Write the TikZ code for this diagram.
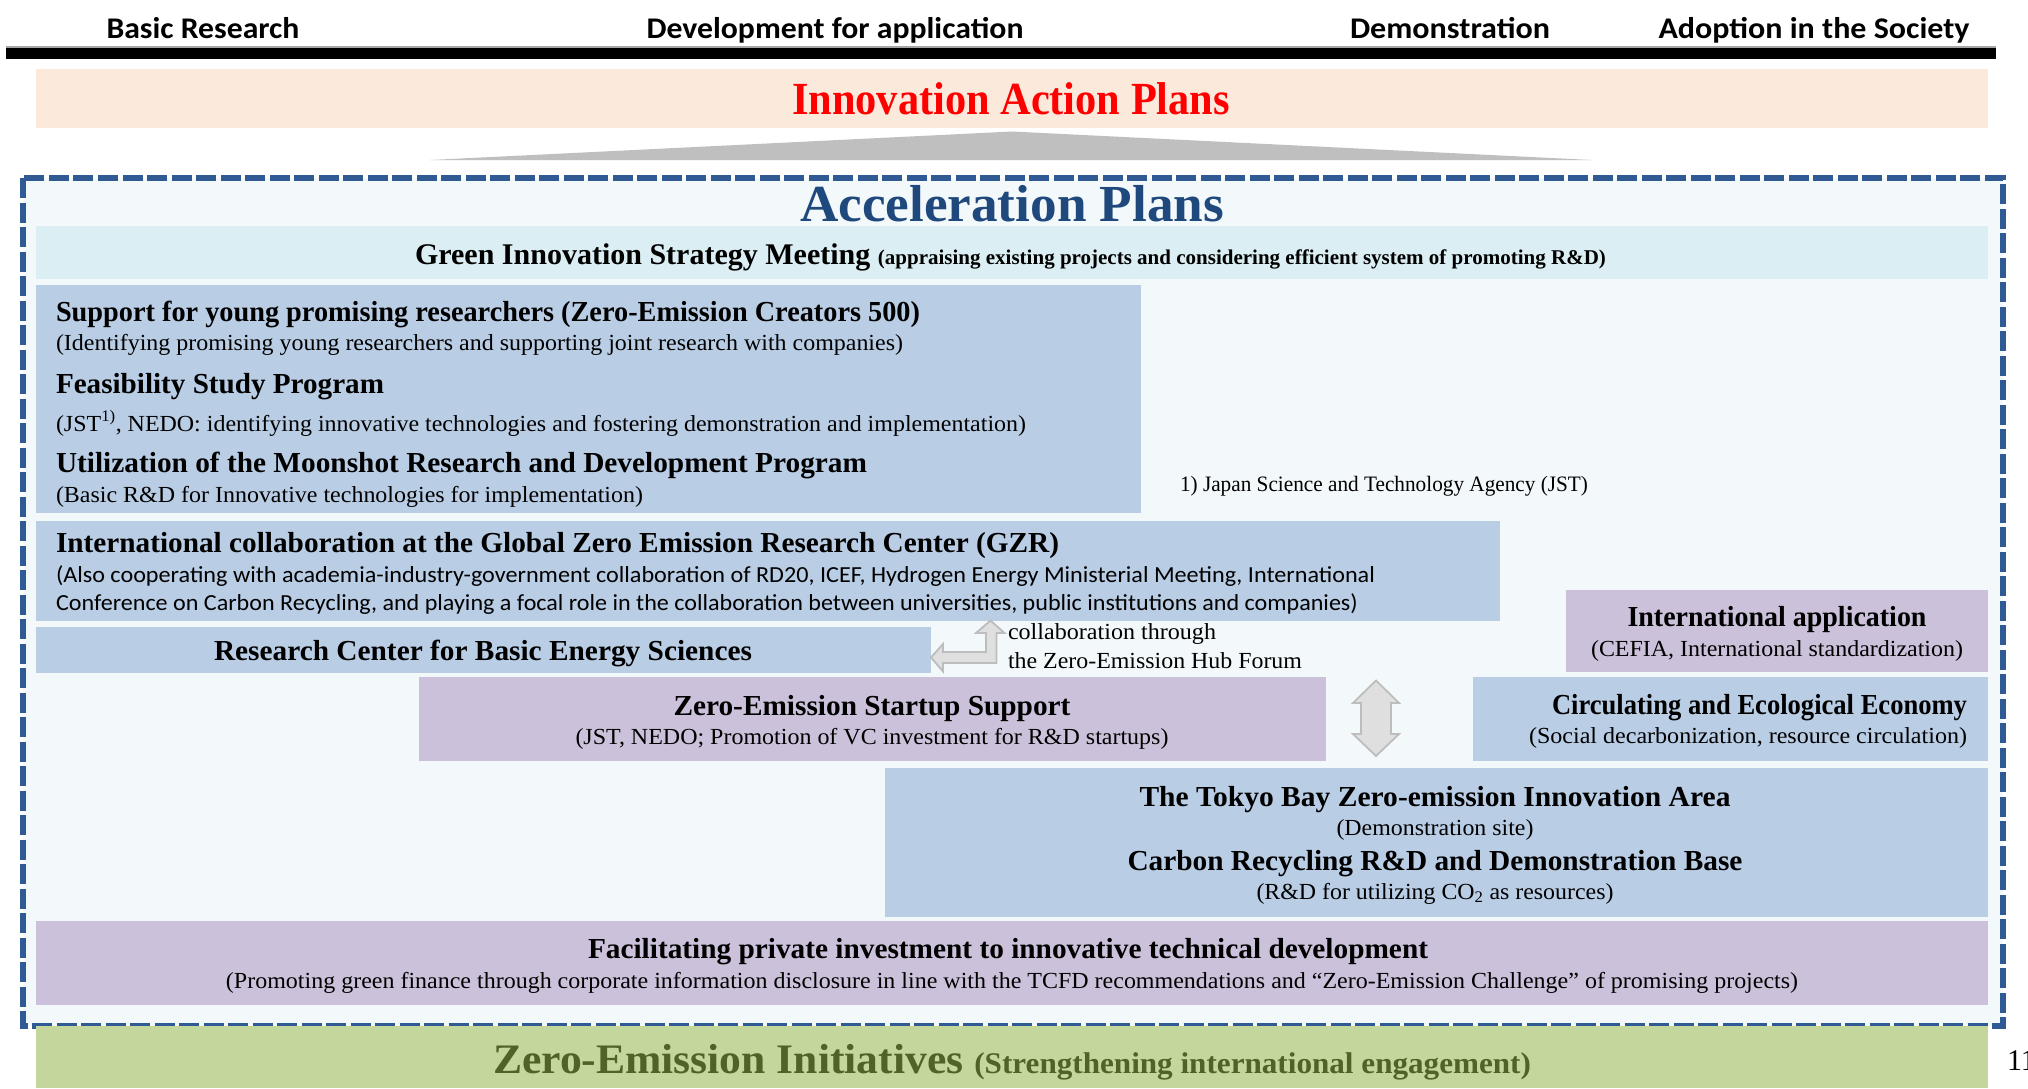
\documentclass[tikz,border=0pt]{standalone}
\usepackage{fontspec}
\setmainfont{Liberation Serif}
\newfontfamily\calfont{Carlito}
\usepackage{graphicx}
\newlength\natw
\newcommand\fs[1]{\fontsize{#1}{#1}\selectfont}
\newcommand\fitw[2]{\settowidth\natw{#2}\pgfmathsetmacro\sxf{#1/\natw}\scalebox{\sxf}[1]{#2}}
\definecolor{peach}{HTML}{FBE9DB}
\definecolor{trigray}{HTML}{BFBFBF}
\definecolor{framefill}{HTML}{F3F8FB}
\definecolor{framec}{HTML}{2F5A93}
\definecolor{accblue}{HTML}{1F497D}
\definecolor{strat}{HTML}{DAEEF3}
\definecolor{bluebox}{HTML}{B9CDE5}
\definecolor{purpbox}{HTML}{CCC1DA}
\definecolor{greenbox}{HTML}{C3D69B}
\definecolor{olive}{HTML}{4F6228}
\definecolor{arrfill}{HTML}{DFDFDF}
\definecolor{arrline}{HTML}{BDBDBD}
\tikzset{
  blk/.style={rectangle, inner sep=0pt, outer sep=0pt, anchor=north west, draw=none},
  lbl/.style={inner sep=0pt, outer sep=0pt, text=black},
  blockarrow/.style={fill=arrfill, draw=arrline, line width=1.8pt, line join=miter},
}
\begin{document}
\begin{tikzpicture}[x=1pt,y=-1pt]
\useasboundingbox (0,0) rectangle (2028,1088);
\fill[white] (0,0) rectangle (2028,1088);

% header
\node[lbl, anchor=base] (h1) at (203,38) {\calfont\bfseries\fs{30}\fitw{193}{Basic Research}};
\node[lbl, anchor=base] (h2) at (835,38) {\calfont\bfseries\fs{30}\fitw{377}{Development for application}};
\node[lbl, anchor=base] (h3) at (1450,38) {\calfont\bfseries\fs{30}\fitw{200}{Demonstration}};
\node[lbl, anchor=base] (h4) at (1814,38) {\calfont\bfseries\fs{30}\fitw{311}{Adoption in the Society}};
\node[blk, fill=black!35, minimum width=1990, minimum height=1.5] (barline) at (6,46) {};
\node[blk, fill=black, minimum width=1990, minimum height=11] (bar) at (6,47.5) {};

% innovation action plans
\node[blk, fill=peach, minimum width=1952, minimum height=59] (iap) at (36,69) {};
\node[lbl, anchor=base, text=red] (iapt) at (1011,114) {\bfseries\fs{46}\fitw{438}{Innovation Action Plans}};
\fill[trigray] (430,160) -- (1012,131.5) -- (1592,160) -- cycle;

% acceleration frame
\node[blk, fill=framefill, minimum width=1980.5, minimum height=848] (frame) at (22.5,178) {};
\node[lbl, anchor=base, text=accblue] (acc) at (1012,221) {\bfseries\fs{52}\fitw{424}{Acceleration Plans}};

\node[blk, fill=strat, minimum width=1952, minimum height=53] (gism) at (36,226) {};
\node[lbl, anchor=base west] (gismt) at (415,264) {\bfseries\fitw{1191}{\fs{30}Green Innovation Strategy Meeting \fs{21}(appraising existing projects and considering efficient system of promoting R\&D)}};

% support box
\node[blk, fill=bluebox, minimum width=1105, minimum height=228] (sup) at (36,285) {};
\node[lbl, anchor=base west] (s1) at (56,321) {\bfseries\fs{29}\fitw{864}{Support for young promising researchers (Zero-Emission Creators 500)}};
\node[lbl, anchor=base west] (s2) at (56,350) {\fs{23}\fitw{847}{(Identifying promising young researchers and supporting joint research with companies)}};
\node[lbl, anchor=base west] (s3) at (56,393) {\bfseries\fs{29}\fitw{328}{Feasibility Study Program}};
\node[lbl, anchor=base west] (s4) at (56,431) {\fs{23}\fitw{970}{(JST\textsuperscript{1)}, NEDO: identifying innovative technologies and fostering demonstration and implementation)}};
\node[lbl, anchor=base west] (s5) at (56,472) {\bfseries\fs{29}\fitw{811}{Utilization of the Moonshot Research and Development Program}};
\node[lbl, anchor=base west] (s6) at (56,502) {\fs{23}\fitw{587}{(Basic R\&D for Innovative technologies for implementation)}};
\node[lbl, anchor=base west] (fn) at (1180,491) {\fs{22}\fitw{408}{1) Japan Science and Technology Agency (JST)}};

% GZR
\node[blk, fill=bluebox, minimum width=1464, minimum height=99.5] (gzr) at (36,521) {};
\node[lbl, anchor=base west] (g1) at (56,552) {\bfseries\fs{29}\fitw{1003}{International collaboration at the Global Zero Emission Research Center (GZR)}};
\node[lbl, anchor=base west] (g2) at (56,582) {\calfont\fs{23}\fitw{1319}{(Also cooperating with academia-industry-government collaboration of RD20, ICEF, Hydrogen Energy Ministerial Meeting, International}};
\node[lbl, anchor=base west] (g3) at (56,610) {\calfont\fs{23}\fitw{1302}{Conference on Carbon Recycling, and playing a focal role in the collaboration between universities, public institutions and companies)}};

% research center
\node[blk, fill=bluebox, minimum width=895, minimum height=45.5] (rc) at (36,627) {};
\node[lbl, anchor=base] (rct) at (483,660) {\bfseries\fs{29}\fitw{538}{Research Center for Basic Energy Sciences}};

% hook arrow
\draw[blockarrow] (rc.east |- 0,657.5) -- (943,644) -- (943,652) -- (986,652) -- (986,633) -- (976,633)
  -- (gzr.south -| 990.5,0) -- (1004.5,633) -- (996.5,633) -- (996.5,663) -- (943,663) -- (943,671.5) -- cycle;
\node[lbl, anchor=base west] (c1) at (1008,639) {\fs{23}\fitw{208}{collaboration through}};
\node[lbl, anchor=base west] (c2) at (1008,668) {\fs{23}\fitw{294}{the Zero-Emission Hub Forum}};

% international application
\node[blk, fill=purpbox, minimum width=422, minimum height=82] (ia) at (1566,590) {};
\node[lbl, anchor=base] (ia1) at (1777,626) {\bfseries\fs{29}\fitw{299}{International application}};
\node[lbl, anchor=base] (ia2) at (1777,656) {\fs{23}\fitw{372}{(CEFIA, International standardization)}};

% startup
\node[blk, fill=purpbox, minimum width=907, minimum height=83.5] (st) at (419,677) {};
\node[lbl, anchor=base] (st1) at (872,715) {\bfseries\fs{29}\fitw{397}{Zero-Emission Startup Support}};
\node[lbl, anchor=base] (st2) at (872,744) {\fs{23}\fitw{593}{(JST, NEDO; Promotion of VC investment for R\&D startups)}};

% double arrow
\draw[blockarrow] (1376,680.5) -- (1399,703) -- (1391,703) -- (1391,734) -- (1399,734) -- (1376,756)
  -- (1353,734) -- (1361,734) -- (1361,703) -- (1353,703) -- cycle;

% circulating
\node[blk, fill=bluebox, minimum width=515, minimum height=83.5] (ce) at (1473,677) {};
\node[lbl, anchor=base east] (ce1) at (1967,714) {\bfseries\fs{29}\fitw{415}{Circulating and Ecological Economy}};
\node[lbl, anchor=base east] (ce2) at (1967,743) {\fs{23}\fitw{438}{(Social decarbonization, resource circulation)}};

% tokyo bay
\node[blk, fill=bluebox, minimum width=1103, minimum height=148.5] (tb) at (885,768) {};
\node[lbl, anchor=base] (tb1) at (1435,806) {\bfseries\fs{29}\fitw{591}{The Tokyo Bay Zero-emission Innovation Area}};
\node[lbl, anchor=base] (tb2) at (1435,835) {\fs{23}\fitw{197}{(Demonstration site)}};
\node[lbl, anchor=base] (tb3) at (1435,870) {\bfseries\fs{29}\fitw{615}{Carbon Recycling R\&D and Demonstration Base}};
\node[lbl, anchor=base] (tb4) at (1435,899) {\fs{23}\fitw{357}{(R\&D for utilizing CO\textsubscript{2} as resources)}};

% facilitating
\node[blk, fill=purpbox, minimum width=1952, minimum height=84] (fp) at (36,921) {};
\node[lbl, anchor=base] (fp1) at (1008,958) {\bfseries\fs{29}\fitw{840}{Facilitating private investment to innovative technical development}};
\node[lbl, anchor=base] (fp2) at (1012,988) {\fs{23}\fitw{1572}{(Promoting green finance through corporate information disclosure in line with the TCFD recommendations and “Zero-Emission Challenge” of promising projects)}};

% frame outline
\draw[framec, line width=6pt, dash pattern=on 20pt off 4.5pt] (frame.north west) rectangle (frame.south east);

% zero-emission initiatives
\node[blk, fill=greenbox, minimum width=1952, minimum height=62] (zei) at (36,1026) {};
\node[lbl, anchor=base west, text=olive] (zeit) at (493,1073) {\bfseries\fitw{1038}{\fs{42}Zero-Emission Initiatives \fs{30}(Strengthening international engagement)}};
\node[lbl, anchor=base west] (pg) at (2007,1070) {\fs{30}11};
\end{tikzpicture}
\end{document}
